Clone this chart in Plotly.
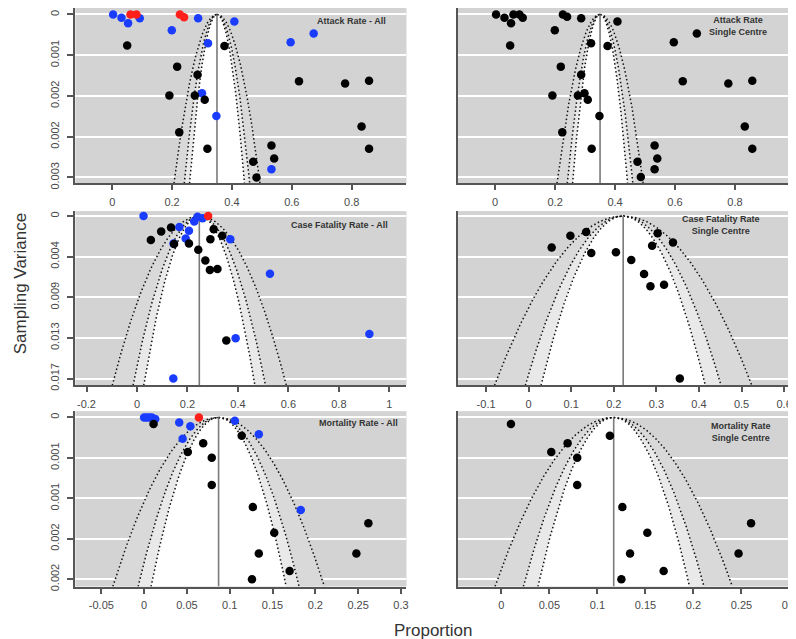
import numpy as np
import plotly.graph_objects as go

W, H = 796, 639

# ---------------- data ----------------
# group codes: "S" = black, "M" = blue, "O" = red
AR_ALL_P = [0.003, 0.031, 0.061, 0.081, 0.053, 0.092, 0.226, 0.240, 0.287, 0.408, 0.199, 0.050,
            0.320, 0.375, 0.596, 0.673, 0.217, 0.285, 0.624, 0.778, 0.858, 0.191, 0.276, 0.300,
            0.309, 0.348, 0.833, 0.224, 0.532, 0.318, 0.858, 0.471, 0.541, 0.532, 0.482]
AR_ALL_V = [0.0, 0.00006, 0.0, 0.0, 0.00016, 0.00007, 0.0, 0.00005, 0.00007, 0.00013, 0.00029, 0.00057,
            0.00053, 0.00058, 0.00051, 0.00035, 0.00096, 0.00111, 0.00123, 0.00127, 0.00122, 0.00149, 0.00149, 0.00145,
            0.00157, 0.00187, 0.00206, 0.00217, 0.00241, 0.00247, 0.00247, 0.00271, 0.00265, 0.00285, 0.00300]
AR_ALL_G = ["M", "M", "O", "O", "M", "M", "O", "O", "M", "M", "M", "S",
            "M", "S", "M", "M", "S", "S", "S", "S", "S", "S", "S", "M",
            "S", "M", "S", "S", "S", "S", "S", "S", "S", "M", "S"]

AR_SC_P = [0.003, 0.031, 0.061, 0.081, 0.092, 0.053, 0.226, 0.240, 0.287, 0.408, 0.199, 0.050,
           0.320, 0.375, 0.596, 0.673, 0.219, 0.287, 0.626, 0.778, 0.858, 0.191, 0.276, 0.298,
           0.309, 0.348, 0.833, 0.224, 0.532, 0.322, 0.858, 0.475, 0.541, 0.532, 0.486]
AR_SC_V = [0.0, 0.00006, 0.0, 0.0, 0.00006, 0.00016, 0.0, 0.00004, 0.00007, 0.00013, 0.00029, 0.00057,
           0.00053, 0.00058, 0.00051, 0.00035, 0.00096, 0.00111, 0.00123, 0.00127, 0.00122, 0.00149, 0.00149, 0.00145,
           0.00157, 0.00187, 0.00206, 0.00217, 0.00241, 0.00247, 0.00247, 0.00271, 0.00265, 0.00285, 0.00299]

CFR_ALL_P = [0.026, 0.240, 0.260, 0.282, 0.227, 0.168, 0.135, 0.096, 0.206, 0.304, 0.055, 0.193,
             0.338, 0.370, 0.291, 0.145, 0.147, 0.206, 0.243, 0.271, 0.289, 0.319, 0.527, 0.391,
             0.354, 0.921, 0.144]
CFR_ALL_V = [0.0, 0.00007, 0.00024, 0.0, 0.00059, 0.00115, 0.00122, 0.00164, 0.00157, 0.00140, 0.00255, 0.00238,
             0.00210, 0.00245, 0.00245, 0.00290, 0.00297, 0.00290, 0.00357, 0.00472, 0.00570, 0.00560, 0.00612, 0.01293,
             0.01318, 0.01248, 0.01720]
CFR_ALL_G = ["M", "M", "M", "O", "M", "M", "S", "S", "M", "S", "S", "M",
             "S", "M", "S", "M", "S", "S", "S", "S", "S", "S", "M", "M",
             "S", "M", "M"]

CFR_SC_P = [0.054, 0.098, 0.135, 0.147, 0.205, 0.241, 0.271, 0.286, 0.318, 0.303, 0.339, 0.290, 0.355]
CFR_SC_V = [0.00255, 0.00161, 0.00129, 0.00300, 0.00295, 0.00357, 0.00470, 0.00571, 0.00558, 0.00140,
            0.00215, 0.00241, 0.01320]

MR_ALL_P = [0.000, 0.003, 0.006, 0.009, 0.013, 0.011, 0.064, 0.041, 0.054, 0.045, 0.069, 0.051,
            0.079, 0.079, 0.106, 0.114, 0.134, 0.127, 0.183, 0.152, 0.262, 0.134, 0.248, 0.170, 0.126]
MR_ALL_V = [0.0, 0.0, 0.0, 0.0, 0.00002, 0.00009, 0.0, 0.00007, 0.00012, 0.00029, 0.00035, 0.00047,
            0.00055, 0.00092, 0.000045, 0.00025, 0.00023, 0.00122, 0.00126, 0.00157, 0.00144, 0.00185, 0.00185,
            0.00209, 0.00220]
MR_ALL_G = ["M", "M", "M", "M", "M", "S", "O", "M", "M", "M", "S", "S",
            "S", "S", "M", "S", "M", "S", "M", "S", "S", "S", "S", "S", "S"]

MR_SC_P = [0.010, 0.052, 0.069, 0.079, 0.079, 0.113, 0.126, 0.152, 0.134, 0.169, 0.125, 0.260, 0.247]
MR_SC_V = [0.00009, 0.00047, 0.00035, 0.00055, 0.00092, 0.00025, 0.00122, 0.00157, 0.00185, 0.00209,
           0.00220, 0.00144, 0.00185]

# pooled estimates (vertical reference lines)
AR_ALL_EST, AR_SC_EST = 0.35, 0.35
CFR_ALL_EST, CFR_SC_EST = 0.247, 0.222
MR_ALL_EST, MR_SC_EST = 0.087, 0.117

Z_LEVELS = [2.576, 1.96, 1.645]   # 99 %, 95 %, 90 %

# tick values / labels
X_TICKS_AR = [0, 0.2, 0.4, 0.6, 0.8]
X_TICKS_CFR_ALL = [-0.2, 0, 0.2, 0.4, 0.6, 0.8, 1]
X_TICKS_CFR_SC = [-0.1, 0, 0.1, 0.2, 0.3, 0.4, 0.5, 0.6]
X_TICKS_MR_ALL = [-0.05, 0, 0.05, 0.1, 0.15, 0.2, 0.25, 0.3]
X_TICKS_MR_SC = [0, 0.05, 0.1, 0.15, 0.2, 0.25, 0.3]

Y_TICKS_AR = [0, 0.00075, 0.0015, 0.00225, 0.003]
Y_LABELS_AR = ["0", "0.001", "0.002", "0.002", "0.003"]
Y_TICKS_CFR_ALL = [0, 0.0043, 0.0086, 0.0129, 0.0172]
Y_LABELS_CFR_ALL = ["0", "0.004", "0.009", "0.013", "0.017"]
Y_TICKS_CFR_SC = [0, 0.0033, 0.0066, 0.0099, 0.0132]
Y_TICKS_MR = [0, 0.00055, 0.0011, 0.00165, 0.0022]
Y_LABELS_MR = ["0", "0.001", "0.001", "0.002", "0.002"]

# ---------------- styling / layout ----------------
COLORS = {"S": "#000000", "M": "#1a3cff", "O": "#ff1f1a"}
BG = "#d3d3d3"
BAND_COLORS = ["#d9d9d9", "#e9e9e9", "#ffffff"]
AXC = "#555555"
TXT = "#4a4a4a"
FONT = "Liberation Sans, Arial, sans-serif"

# pixel bounds of plot areas
COLS = [(68, 402), (454, 789)]
ROWS = [(0, 177), (205, 381), (407, 584)]

panels = [
    dict(row=0, col=0, p=AR_ALL_P, v=AR_ALL_V, g=AR_ALL_G, est=AR_ALL_EST,
         xr=[-0.123, 0.983], yr=[0.003108, -0.000119], xt=X_TICKS_AR, yt=Y_TICKS_AR, yl=Y_LABELS_AR),
    dict(row=0, col=1, p=AR_SC_P, v=AR_SC_V, g=None, est=AR_SC_EST,
         xr=[-0.124, 0.984], yr=[0.003108, -0.000119], xt=X_TICKS_AR, yt=Y_TICKS_AR, yl=None),
    dict(row=1, col=0, p=CFR_ALL_P, v=CFR_ALL_V, g=CFR_ALL_G, est=CFR_ALL_EST,
         xr=[-0.244, 1.068], yr=[0.01793, -0.000524], xt=X_TICKS_CFR_ALL, yt=Y_TICKS_CFR_ALL, yl=Y_LABELS_CFR_ALL),
    dict(row=1, col=1, p=CFR_SC_P, v=CFR_SC_V, g=None, est=CFR_SC_EST,
         xr=[-0.166, 0.614], yr=[0.01376, -0.000402], xt=X_TICKS_CFR_SC, yt=Y_TICKS_CFR_SC, yl=None),
    dict(row=2, col=0, p=MR_ALL_P, v=MR_ALL_V, g=MR_ALL_G, est=MR_ALL_EST,
         xr=[-0.0803, 0.3065], yr=[0.0023, -0.000085], xt=X_TICKS_MR_ALL, yt=Y_TICKS_MR, yl=Y_LABELS_MR),
    dict(row=2, col=1, p=MR_SC_P, v=MR_SC_V, g=None, est=MR_SC_EST,
         xr=[-0.0451, 0.3006], yr=[0.0023, -0.000085], xt=X_TICKS_MR_SC, yt=Y_TICKS_MR, yl=None),
]


def fmt(t):
    s = ("%.2f" % t).rstrip("0").rstrip(".")
    return "0" if s in ("-0", "") else s


fig = go.Figure()
layout = dict(width=W, height=H, margin=dict(l=0, r=0, t=0, b=0),
              paper_bgcolor="white", showlegend=False,
              font=dict(family=FONT, color=TXT))

for i, pn in enumerate(panels):
    k = "" if i == 0 else str(i + 1)
    xa, ya = "x" + k, "y" + k
    x0, x1 = COLS[pn["col"]]
    y0, y1 = ROWS[pn["row"]]
    vb = pn["yr"][0]
    c = pn["est"]
    vv = np.linspace(0, vb, 300)
    sq = np.sqrt(vv)

    # shaded funnel regions
    for z, col in zip(Z_LEVELS, BAND_COLORS):
        xs = np.concatenate([c - z * sq[::-1], c + z * sq])
        ys = np.concatenate([vv[::-1], vv])
        fig.add_trace(go.Scatter(x=xs, y=ys, mode="lines", fill="toself", fillcolor=col,
                                 line=dict(width=0), hoverinfo="skip", xaxis=xa, yaxis=ya))
    # dotted funnel lines
    for z in Z_LEVELS:
        xs = list(c - z * sq[::-1]) + [None] + list(c + z * sq)
        ys = list(vv[::-1]) + [None] + list(vv)
        fig.add_trace(go.Scatter(x=xs, y=ys, mode="lines",
                                 line=dict(color="#111111", width=1.5, dash="1.5px,2.5px"),
                                 hoverinfo="skip", xaxis=xa, yaxis=ya))
    # pooled estimate line
    fig.add_trace(go.Scatter(x=[c, c], y=[0, vb], mode="lines",
                             line=dict(color="#7a7a7a", width=1.6), hoverinfo="skip",
                             xaxis=xa, yaxis=ya))
    # points
    groups = pn["g"] if pn["g"] is not None else ["S"] * len(pn["p"])
    for gk in ["M", "O", "S"]:
        idx = [j for j, gg in enumerate(groups) if gg == gk]
        if not idx:
            continue
        fig.add_trace(go.Scatter(x=[pn["p"][j] for j in idx], y=[pn["v"][j] for j in idx],
                                 mode="markers", marker=dict(color=COLORS[gk], size=8.5),
                                 xaxis=xa, yaxis=ya))

    layout["xaxis" + k] = dict(
        domain=[x0 / W, x1 / W], anchor=ya, range=pn["xr"], showgrid=False, zeroline=False,
        showline=True, linecolor=AXC, linewidth=2, ticks="outside", ticklen=5, tickwidth=1.5,
        tickcolor=AXC, tickvals=pn["xt"], ticktext=[fmt(t) for t in pn["xt"]],
        ticklabelstandoff=2,
        tickfont=dict(size=11, color=TXT, family=FONT))
    ydict = dict(
        domain=[1 - y1 / H, 1 - y0 / H], anchor=xa, range=pn["yr"], zeroline=False,
        showgrid=True, gridcolor="white", gridwidth=2, tickvals=pn["yt"],
        showline=True, linecolor=AXC, linewidth=2)
    if pn["yl"] is not None:
        ydict.update(ticks="outside", ticklen=6, tickwidth=1.5, tickcolor=AXC,
                     ticktext=pn["yl"], tickangle=-90, ticklabelstandoff=4,
                     tickfont=dict(size=11, color=TXT, family=FONT))
    else:
        ydict.update(ticks="", showticklabels=False)
    layout["yaxis" + k] = ydict
    layout["plot_bgcolor"] = BG

TITLES = [
    ("Attack Rate - All", 347, 13),
    ("Attack Rate<br>Single Centre", 736, 18),
    ("Case Fatality Rate - All", 334, 219),
    ("Case Fatality Rate<br>Single Centre", 719, 219.5),
    ("Mortality Rate - All", 354, 419),
    ("Mortality Rate<br>Single Centre", 740, 428),
]
ann = []
for t, px, py in TITLES:
    ann.append(dict(text="<b>" + t + "</b>", x=px / W, y=1 - py / H, xref="paper", yref="paper",
                    xanchor="center", yanchor="middle", showarrow=False,
                    font=dict(size=9, color="#333333", family=FONT)))
ann.append(dict(text="Sampling Variance", x=12 / W, y=1 - 278 / H, xref="paper", yref="paper",
                textangle=-90, xanchor="center", yanchor="middle", showarrow=False,
                font=dict(size=17, color="#333333", family=FONT)))
ann.append(dict(text="Proportion", x=429 / W, y=1 - 628 / H, xref="paper", yref="paper",
                xanchor="center", yanchor="middle", showarrow=False,
                font=dict(size=17, color="#333333", family=FONT)))
layout["annotations"] = ann

fig.update_layout(**layout)
fig.write_html("out.html")
